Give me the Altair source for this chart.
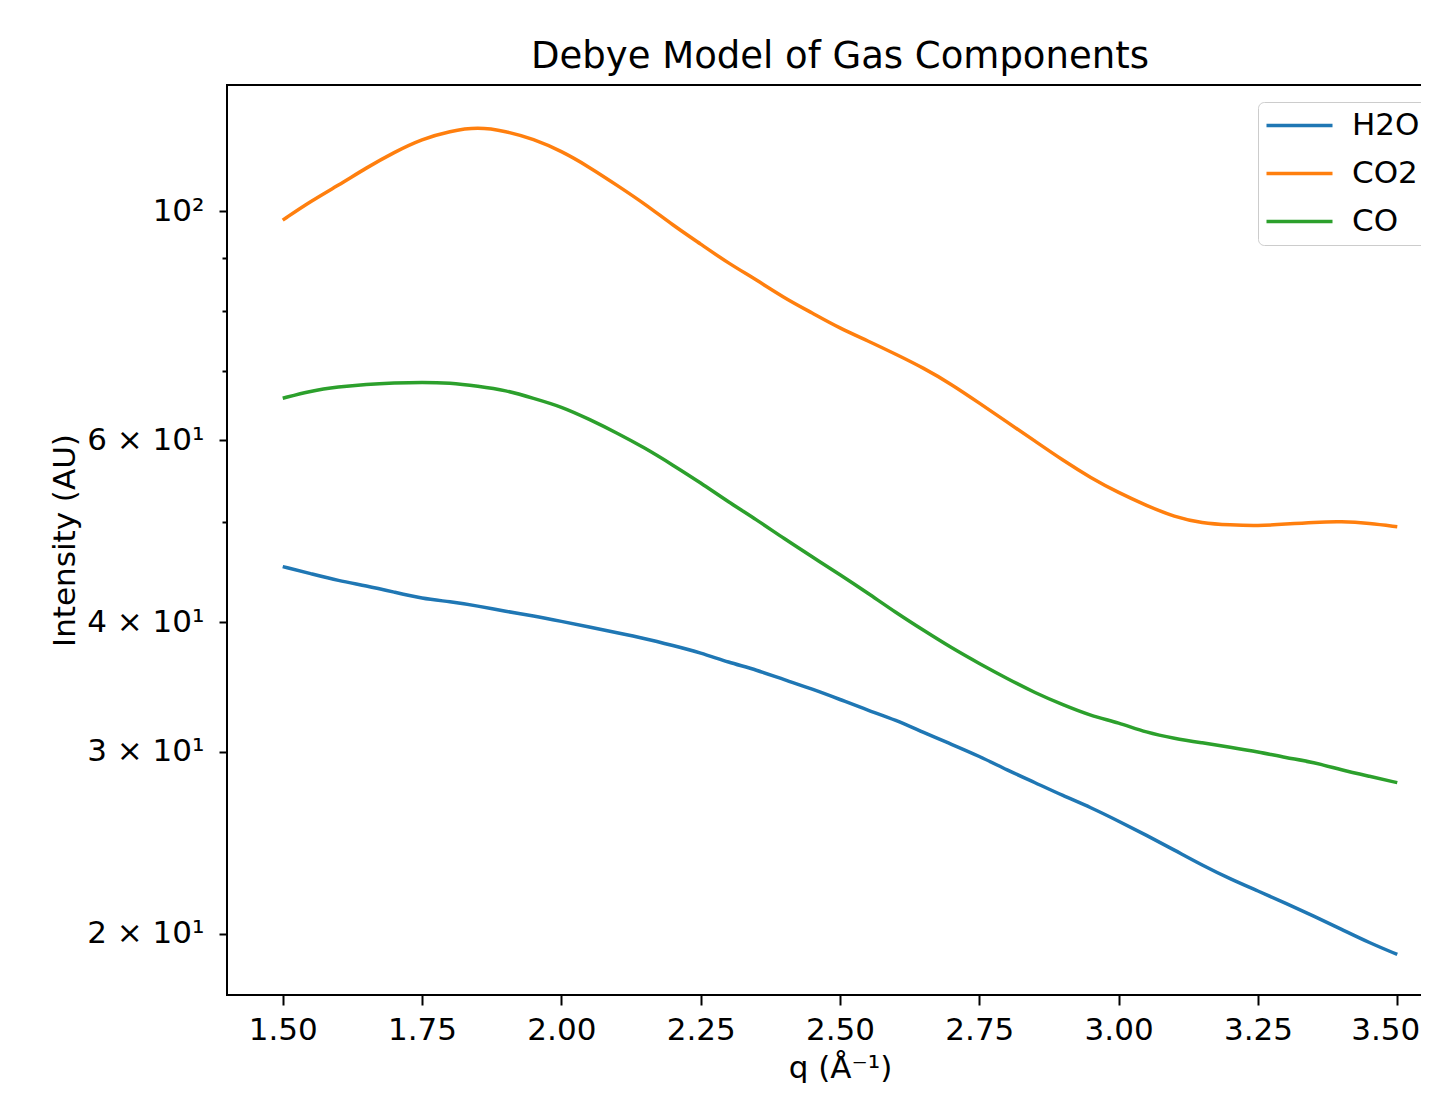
import altair as alt
import pandas as pd

q = [1.50, 1.55, 1.60, 1.65, 1.70, 1.75, 1.80, 1.85, 1.90, 1.95,
     2.00, 2.05, 2.10, 2.15, 2.20, 2.25, 2.30, 2.35, 2.40, 2.45,
     2.50, 2.55, 2.60, 2.65, 2.70, 2.75, 2.80, 2.85, 2.90, 2.95,
     3.00, 3.05, 3.10, 3.15, 3.20, 3.25, 3.30, 3.35, 3.40, 3.45, 3.50]

h2o = [45.3, 44.6, 43.9, 43.4, 42.8, 42.2, 41.9, 41.5, 41.0, 40.6,
       40.1, 39.6, 39.1, 38.6, 38.0, 37.4, 36.6, 36.0, 35.2, 34.5,
       33.7, 32.9, 32.2, 31.3, 30.5, 29.7, 28.8, 28.0, 27.2, 26.5,
       25.7, 24.9, 24.1, 23.3, 22.6, 22.0, 21.4, 20.8, 20.2, 19.6, 19.1]

co2 = [98.0, 102.2, 105.9, 110.1, 114.0, 117.4, 119.5, 120.6, 119.5, 117.4,
       114.3, 110.3, 105.9, 101.6, 96.9, 92.9, 89.0, 85.8, 82.4, 79.7,
       77.0, 74.9, 72.7, 70.5, 68.0, 65.2, 62.5, 59.9, 57.4, 55.2,
       53.4, 51.9, 50.6, 49.9, 49.7, 49.6, 49.8, 50.0, 50.1, 49.9, 49.5]

co = [65.9, 67.0, 67.6, 68.0, 68.2, 68.3, 68.2, 67.7, 67.1, 65.9,
      64.7, 62.9, 61.0, 59.0, 56.8, 54.6, 52.3, 50.3, 48.2, 46.3,
      44.5, 42.7, 40.9, 39.3, 37.8, 36.5, 35.3, 34.2, 33.3, 32.5,
      32.0, 31.3, 30.9, 30.6, 30.3, 30.0, 29.6, 29.3, 28.8, 28.4, 28.0]

series_names = ["H2O", "CO2", "CO"]
series_colors = ["#1f77b4", "#ff7f0e", "#2ca02c"]
x_ticks = [1.5, 1.75, 2.0, 2.25, 2.5, 2.75, 3.0, 3.25, 3.5]
y_ticks = [20, 30, 40, 50, 60, 70, 80, 90, 100]

rows = []
for name, vals in zip(series_names, [h2o, co2, co]):
    for i, (qq, v) in enumerate(zip(q, vals)):
        rows.append({"q": qq, "value": v, "gas": name, "idx": i})
df = pd.DataFrame(rows)

FONT = "DejaVu Sans"

label_expr = ("datum.value == 100 ? '10²' : datum.value == 60 ? '6 × 10¹' : "
              "datum.value == 40 ? '4 × 10¹' : datum.value == 30 ? '3 × 10¹' : "
              "datum.value == 20 ? '2 × 10¹' : ''")

chart = alt.Chart(df).mark_line(strokeWidth=3.5, interpolate="basis", clip=True).encode(
    x=alt.X("q:Q",
            scale=alt.Scale(domain=[1.4, 3.6], nice=False, zero=False),
            axis=alt.Axis(values=x_ticks, format=".2f", title="q (Å⁻¹)",
                          tickSize=10, labelPadding=10, titlePadding=8,
                          labelOffset={"condition": {"test": "datum.value >= 3.5", "value": -12}, "value": 0},
                          labelFlush=False)),
    y=alt.Y("value:Q",
            scale=alt.Scale(type="log", domain=[17.45, 132.4], nice=False),
            axis=alt.Axis(values=y_ticks, labelExpr=label_expr, title="Intensity (AU)",
                          tickSize={"condition": {"test": "datum.value == 50 || datum.value == 70 || datum.value == 80 || datum.value == 90", "value": 5}, "value": 8},
                          labelPadding=15, titlePadding=5, labelFlush=False)),
    color=alt.Color("gas:N",
                    scale=alt.Scale(domain=series_names, range=series_colors),
                    legend=alt.Legend(title=None, orient="none", legendX=1031, legendY=17,
                                      symbolType="M-3,0L3,0", symbolSize=484,
                                      symbolOffset=18,
                                      symbolStrokeWidth=3.5, labelFont=FONT,
                                      labelFontSize=31, labelColor="black",
                                      padding=8, rowPadding=16, labelOffset=37,
                                      strokeColor="#cccccc",
                                      fillColor="rgba(255,255,255,0.8)",
                                      cornerRadius=6)),
    order="idx:Q",
).properties(
    width=1226,
    height=910,
    title=alt.TitleParams("Debye Model of Gas Components", font=FONT, fontSize=37,
                          fontWeight="normal", color="black", offset=9,
                          anchor="middle"),
    autosize=alt.AutoSizeParams(type="none"),
    padding={"left": 219, "top": 77, "right": -32, "bottom": 88},
).configure_view(
    stroke="black", strokeWidth=2
).configure_axis(
    domain=False, grid=False, tickColor="black", tickWidth=2,
    labelFont=FONT, labelFontSize=31, labelColor="black",
    titleFont=FONT, titleFontSize=31, titleFontWeight="normal", titleColor="black",
)

chart.save("out.html", embed_options={"renderer": "svg", "actions": False})
